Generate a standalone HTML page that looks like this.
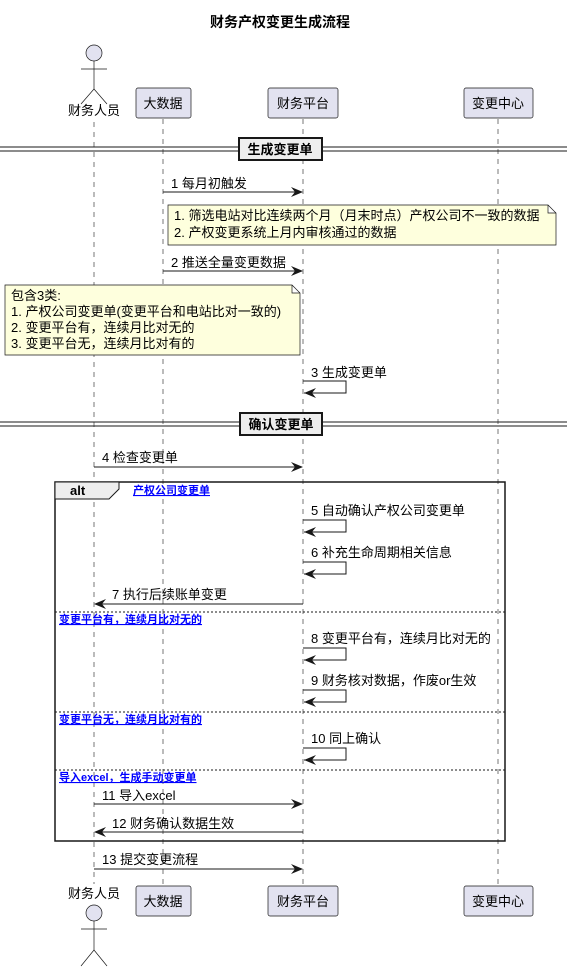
<!DOCTYPE html>
<html><head><meta charset="utf-8"><style>
html,body{margin:0;padding:0;background:#fff}
svg{display:block}
text{font-family:"Liberation Sans","Noto Sans CJK SC",sans-serif;font-size:13px;fill:#000}
.b{font-weight:bold}
.ll{stroke:#777;stroke-width:1;stroke-dasharray:5,5}
.m{stroke:#181818;stroke-width:1;fill:none}
.ah{fill:#181818}
.p{fill:#E2E2F0;stroke:#181818;stroke-width:0.7}
.g{fill:#0000ff;font-size:11px;font-weight:bold;text-decoration:underline}
</style></head><body>
<svg width="567" height="967" viewBox="0 0 567 967" xmlns="http://www.w3.org/2000/svg">
<defs>
<path id="ar" d="M0,0 L-12,-5 L-8,0 L-12,5 Z" class="ah"/>
<path id="al" d="M0,0 L12,-5 L8,0 L12,5 Z" class="ah"/>
</defs>
<text x="280" y="27" text-anchor="middle" class="b" style="font-size:14px">财务产权变更生成流程</text>
<line x1="94" y1="122" x2="94" y2="884" class="ll"/>
<line x1="163" y1="119" x2="163" y2="886" class="ll"/>
<line x1="303" y1="119" x2="303" y2="886" class="ll"/>
<line x1="498" y1="119" x2="498" y2="886" class="ll"/>
<g stroke="#181818" fill="#E2E2F0" stroke-width="0.7">
<circle cx="94" cy="53" r="8"/>
<line x1="94" y1="61" x2="94" y2="89"/><line x1="81" y1="69" x2="107" y2="69"/>
<line x1="94" y1="89" x2="81" y2="104"/><line x1="94" y1="89" x2="107" y2="104"/>
</g>
<text x="94" y="115" text-anchor="middle">财务人员</text>
<rect x="136" y="88" width="55" height="30" rx="2" class="p"/><text x="163" y="108" text-anchor="middle">大数据</text>
<rect x="268" y="88" width="70" height="30" rx="2" class="p"/><text x="303" y="108" text-anchor="middle">财务平台</text>
<rect x="464" y="88" width="69" height="30" rx="2" class="p"/><text x="498" y="108" text-anchor="middle">变更中心</text>
<line x1="0" y1="147" x2="567" y2="147" stroke="#181818"/><line x1="0" y1="151" x2="567" y2="151" stroke="#181818"/>
<rect x="239" y="138" width="83" height="22" fill="#EEEEEE" stroke="#181818" stroke-width="2"/>
<text x="280" y="154" text-anchor="middle" class="b">生成变更单</text>
<text x="171" y="188">1 每月初触发</text>
<line x1="163" y1="192" x2="302" y2="192" class="m"/><use href="#ar" x="303" y="192"/>
<path d="M168,205 L548,205 L556,213 L556,245 L168,245 Z M548,205 L548,213 L556,213" fill="#FEFFDD" stroke="#181818" stroke-width="0.7"/>
<text x="174" y="220">1. 筛选电站对比连续两个月（月末时点）产权公司不一致的数据</text>
<text x="174" y="237">2. 产权变更系统上月内审核通过的数据</text>
<text x="171" y="267">2 推送全量变更数据</text>
<line x1="163" y1="271" x2="302" y2="271" class="m"/><use href="#ar" x="303" y="271"/>
<path d="M5,285 L292,285 L300,293 L300,355 L5,355 Z M292,285 L292,293 L300,293" fill="#FEFFDD" stroke="#181818" stroke-width="0.7"/>
<text x="11" y="300">包含3类:</text>
<text x="11" y="316">1. 产权公司变更单(变更平台和电站比对一致的)</text>
<text x="11" y="332">2. 变更平台有，连续月比对无的</text>
<text x="11" y="348">3. 变更平台无，连续月比对有的</text>
<text x="311" y="377">3 生成变更单</text>
<path d="M303,381 H346 V393 H304" class="m"/><use href="#al" x="304" y="393"/>
<line x1="0" y1="422" x2="567" y2="422" stroke="#181818"/><line x1="0" y1="426" x2="567" y2="426" stroke="#181818"/>
<rect x="240" y="413" width="82" height="22" fill="#EEEEEE" stroke="#181818" stroke-width="2"/>
<text x="281" y="429" text-anchor="middle" class="b">确认变更单</text>
<text x="102" y="462">4 检查变更单</text>
<line x1="94" y1="467" x2="302" y2="467" class="m"/><use href="#ar" x="303" y="467"/>
<rect x="55" y="482" width="450" height="359" fill="none" stroke="#181818" stroke-width="1.5"/>
<path d="M55,482 H119 V489 L109,499 H55 Z" fill="#EEEEEE" stroke="#181818" stroke-width="1"/>
<text x="70" y="495" class="b">alt</text>
<text x="133" y="494" class="g">产权公司变更单</text>
<text x="311" y="515">5 自动确认产权公司变更单</text>
<path d="M303,520 H346 V532 H304" class="m"/><use href="#al" x="304" y="532"/>
<text x="311" y="557">6 补充生命周期相关信息</text>
<path d="M303,562 H346 V574 H304" class="m"/><use href="#al" x="304" y="574"/>
<text x="112" y="599">7 执行后续账单变更</text>
<line x1="95" y1="604" x2="303" y2="604" class="m"/><use href="#al" x="94" y="604"/>
<line x1="55" y1="612" x2="505" y2="612" stroke="#181818" stroke-dasharray="2,2"/>
<text x="59" y="623" class="g">变更平台有，连续月比对无的</text>
<text x="311" y="643">8 变更平台有，连续月比对无的</text>
<path d="M303,648 H346 V660 H304" class="m"/><use href="#al" x="304" y="660"/>
<text x="311" y="685">9 财务核对数据，作废or生效</text>
<path d="M303,690 H346 V702 H304" class="m"/><use href="#al" x="304" y="702"/>
<line x1="55" y1="712" x2="505" y2="712" stroke="#181818" stroke-dasharray="2,2"/>
<text x="59" y="723" class="g">变更平台无，连续月比对有的</text>
<text x="311" y="743">10 同上确认</text>
<path d="M303,748 H346 V760 H304" class="m"/><use href="#al" x="304" y="760"/>
<line x1="55" y1="770" x2="505" y2="770" stroke="#181818" stroke-dasharray="2,2"/>
<text x="59" y="781" class="g">导入excel，生成手动变更单</text>
<text x="102" y="800">11 导入excel</text>
<line x1="94" y1="804" x2="302" y2="804" class="m"/><use href="#ar" x="303" y="804"/>
<text x="112" y="828">12 财务确认数据生效</text>
<line x1="95" y1="832" x2="303" y2="832" class="m"/><use href="#al" x="94" y="832"/>
<text x="102" y="864">13 提交变更流程</text>
<line x1="94" y1="869" x2="302" y2="869" class="m"/><use href="#ar" x="303" y="869"/>
<text x="94" y="898" text-anchor="middle">财务人员</text>
<g stroke="#181818" fill="#E2E2F0" stroke-width="0.7">
<circle cx="94" cy="913" r="8"/>
<line x1="94" y1="921" x2="94" y2="950"/><line x1="81" y1="929" x2="107" y2="929"/>
<line x1="94" y1="950" x2="81" y2="966"/><line x1="94" y1="950" x2="107" y2="966"/>
</g>
<rect x="136" y="886" width="55" height="30" rx="2" class="p"/><text x="163" y="906" text-anchor="middle">大数据</text>
<rect x="268" y="886" width="70" height="30" rx="2" class="p"/><text x="303" y="906" text-anchor="middle">财务平台</text>
<rect x="464" y="886" width="69" height="30" rx="2" class="p"/><text x="498" y="906" text-anchor="middle">变更中心</text>
</svg>
</body></html>
